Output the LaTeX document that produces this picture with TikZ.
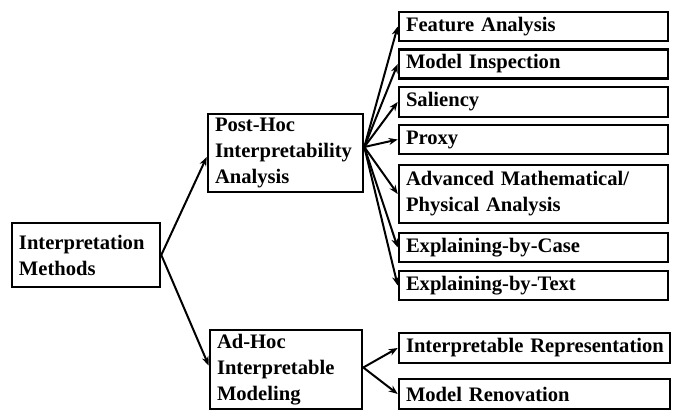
\documentclass[tikz,border=0pt]{standalone}
\usepackage{fontspec}
\setmainfont{Liberation Serif}
\usetikzlibrary{arrows.meta}
\begin{document}
\begin{tikzpicture}[x=1pt,y=-1pt,
 box/.style={draw, line width=2.6pt, inner xsep=7pt, inner ysep=0pt, align=left, font=\fontsize{20.6}{26}\selectfont\bfseries},
 leaf/.style={box, minimum width=269pt, text width=255pt, minimum height=29pt},
 conn/.style={line width=2pt, -{Stealth[length=9pt,width=7pt]}}]
\useasboundingbox (0,0) rectangle (673,411);
\node[box, minimum width=148pt, minimum height=64pt, text width=134pt] (root) at (86,255) {Interpretation\\Methods};
\node[box, minimum width=155pt, minimum height=78pt, text width=141pt] (posthoc) at (285.5,153) {Post-Hoc\\Interpretability\\Analysis};
\node[box, minimum width=152pt, minimum height=79pt, text width=138pt] (adhoc) at (286,369.5) {Ad-Hoc\\Interpretable\\Modeling};
\node[leaf] (fa) at (533.5,26.5) {Feature Analysis};
\node[leaf] (mi) at (533.5,64) {Model Inspection};
\node[leaf, minimum height=30pt] (sal) at (533.5,102) {Saliency};
\node[leaf] (proxy) at (533.5,139.5) {Proxy};
\node[leaf, minimum height=58pt] (adv) at (533.5,194) {Advanced Mathematical/\\Physical Analysis};
\node[leaf] (ebc) at (533.5,247.5) {Explaining-by-Case};
\node[leaf] (ebt) at (533.5,285.5) {Explaining-by-Text};
\node[leaf, minimum width=271pt, text width=257pt, minimum height=30pt] (ir) at (534.5,348) {\mbox{Interpretable Representation}};
\node[leaf, minimum width=271pt, text width=257pt, minimum height=30pt] (mr) at (534.5,394) {Model Renovation};
\coordinate (phs) at ([yshift=6pt]posthoc.east);
\coordinate (ahs) at ([yshift=2pt]adhoc.east);
\draw[conn] (root.east) -- ([yshift=-4pt]posthoc.west);
\draw[conn] (root.east) -- ([yshift=4pt]adhoc.west);
\foreach \t in {fa,mi,sal,proxy,adv,ebc,ebt}
  \draw[conn] (phs) -- (\t.west);
\foreach \t in {ir,mr}
  \draw[conn] (ahs) -- (\t.west);
\end{tikzpicture}
\end{document}
